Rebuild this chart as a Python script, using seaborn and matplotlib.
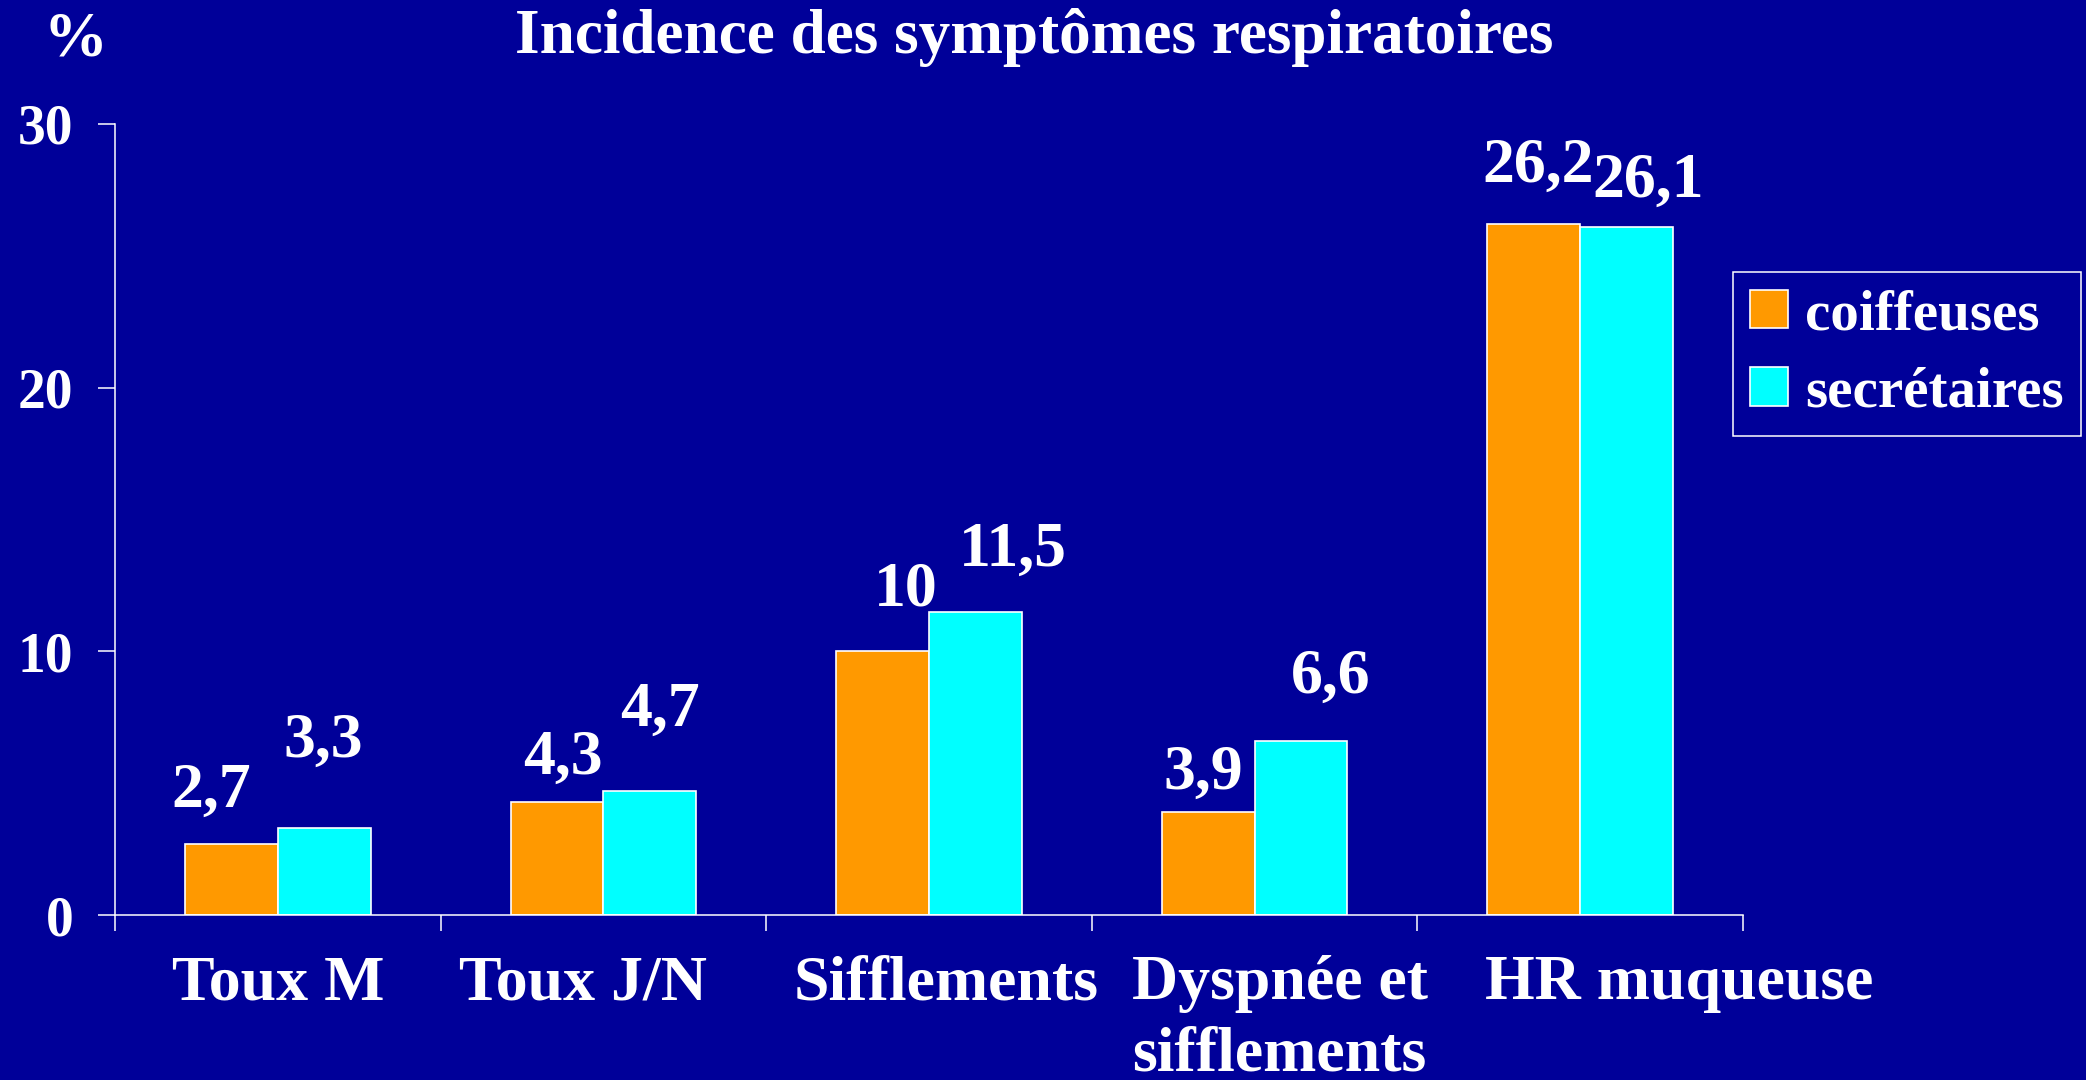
import numpy as np
import pandas as pd
import matplotlib.pyplot as plt
import seaborn as sns

symptomes = ['Toux M', 'Toux J/N', 'Sifflements', 'Dyspnée et\nsifflements', 'HR muqueuse']
groupes = ['coiffeuses', 'secrétaires']
coiffeuses = [2.7, 4.3, 10, 3.9, 26.2]
secretaires = [3.3, 4.7, 11.5, 6.6, 26.1]
etiq_coiffeuses = ['2,7', '4,3', '10', '3,9', '26,2']
etiq_secretaires = ['3,3', '4,7', '11,5', '6,6', '26,1']
yticks = [0, 10, 20, 30]

# where the slide put the value labels: (dx, dy) pixels from the bar top
decal_coiffeuses = [(-20, 37), (6, 28), (23, 46), (-5, 23), (4, 42)]
decal_secretaires = [(-1, 71), (10, 65), (37, 46), (30, 48), (22, 30)]
decal_categories = [0, -20, 17, 25, 99]

BG = '#000099'
couleurs = {'coiffeuses': '#FF9900', 'secrétaires': '#00FFFF'}

df = pd.DataFrame({
    'symptome': symptomes * 2,
    'groupe': [groupes[0]] * 5 + [groupes[1]] * 5,
    'pct': coiffeuses + secretaires,
})

sns.set_style('white')
plt.rcParams['font.family'] = ['Liberation Serif', 'DejaVu Serif']
plt.rcParams['font.weight'] = 'bold'

fig = plt.figure(figsize=(20.86, 10.8), dpi=100, facecolor=BG)
ax = fig.add_axes([115 / 2086, 1 - 915 / 1080, (1743 - 115) / 2086, (915 - 124) / 1080])
ax.set_facecolor(BG)

sns.barplot(data=df, x='symptome', y='pct', hue='groupe', order=symptomes,
            hue_order=groupes, palette=couleurs, width=0.57, saturation=1,
            edgecolor='white', linewidth=1.2, ax=ax)

ax.set_xlim(-0.5, 4.5)
ax.set_ylim(0, 30)
ax.set_yticks(yticks)
ax.set_yticklabels([str(v) for v in yticks], fontsize=40, color='white', fontweight='bold')
ax.set_xticks(range(len(symptomes)))
ax.set_xticklabels([])
ax.set_xticks(np.arange(-0.5, 5, 1), minor=True)
ax.tick_params(axis='x', which='major', length=0, bottom=True)
ax.tick_params(axis='x', which='minor', length=11.5, width=1.1, color='white',
               direction='out', bottom=True)
ax.tick_params(axis='y', which='major', length=12, width=1.1, color='white',
               direction='out', pad=18, left=True)
ax.set_xlabel('')
ax.set_ylabel('')

for s in ['top', 'right']:
    ax.spines[s].set_visible(False)
for s in ['left', 'bottom']:
    ax.spines[s].set_color('white')
    ax.spines[s].set_linewidth(1.1)

# value labels
for cont, etiq, decal in zip(ax.containers, [etiq_coiffeuses, etiq_secretaires],
                             [decal_coiffeuses, decal_secretaires]):
    for p, t, (dx, dy) in zip(cont.patches, etiq, decal):
        x = p.get_x() + p.get_width() / 2
        ax.annotate(t, xy=(x, p.get_height()), xytext=(dx, dy), textcoords='offset pixels',
                    ha='center', va='baseline', fontsize=46, color='white',
                    fontweight='bold', annotation_clip=False)

# category labels
for i, (lab, dx) in enumerate(zip(symptomes, decal_categories)):
    ax.annotate(lab, xy=(i, 0), xytext=(dx, -40), textcoords='offset pixels',
                ha='center', va='top', fontsize=46, color='white', fontweight='bold',
                linespacing=1.3, annotation_clip=False)

handles, labels = ax.get_legend_handles_labels()
ax.legend(handles, labels, loc='upper right', bbox_to_anchor=(2081 / 2086, 1 - 272 / 1080),
          bbox_transform=fig.transFigure, borderaxespad=0, frameon=True,
          fancybox=False, facecolor=BG, edgecolor='white', framealpha=1,
          labelcolor='white', handlelength=0.67, handleheight=0.67,
          handletextpad=0.3, borderpad=0.3, labelspacing=0.45,
          prop={'weight': 'bold', 'size': 41})
ax.get_legend().get_frame().set_linewidth(1.1)

fig.text(1034 / 2086, 1 - 53 / 1080, 'Incidence des symptômes respiratoires',
         ha='center', va='baseline', fontsize=45.5, color='white', fontweight='bold')
fig.text(75 / 2086, 1 - 55 / 1080, '%', ha='center', va='baseline',
         fontsize=46, color='white', fontweight='bold')

fig.savefig('out.png', dpi=100, facecolor=BG)
